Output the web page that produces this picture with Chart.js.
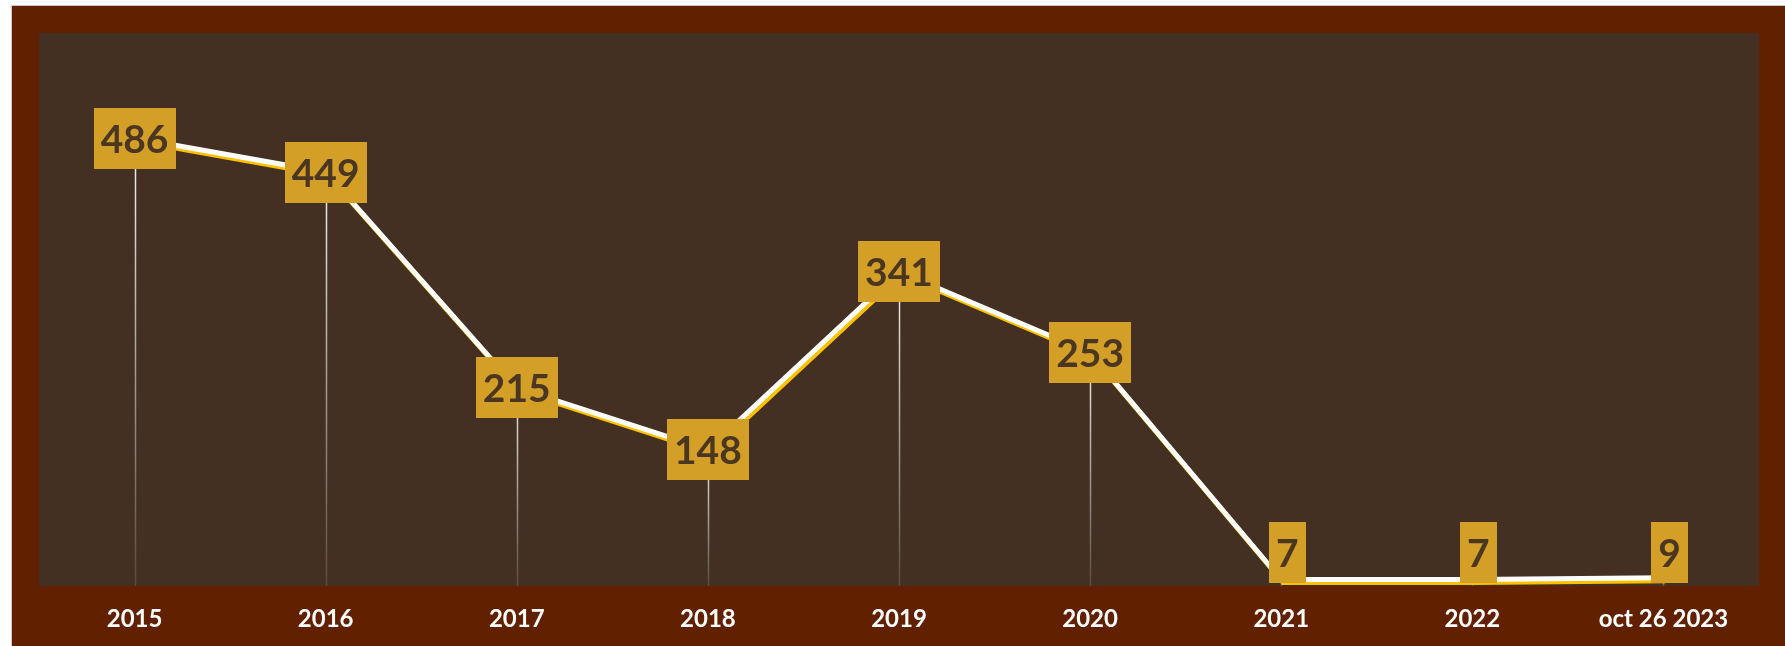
<!DOCTYPE html>
<html><head><meta charset="utf-8">
<script src="https://cdn.jsdelivr.net/npm/chart.js@4.4.1/dist/chart.umd.min.js"></script>
<style>
html,body{margin:0;padding:0;background:#fff;width:1785px;height:646px;overflow:hidden;}
#frame{position:absolute;left:11px;top:5px;width:1773px;height:640px;border-left:1px solid #c9c9c9;border-top:1px solid #c9c9c9;background:#612000;}
canvas{display:block;}
</style></head><body>
<div id="frame"><canvas id="c" width="1773" height="640"></canvas></div>
<script>
const categories = ['2015','2016','2017','2018','2019','2020','2021','2022','oct 26 2023'];
const values = [486,449,215,148,341,253,7,7,9];
const yMin = 0, yMax = 600;

const custom = {
  id: 'custom',
  beforeDraw(chart) {
    const {ctx, chartArea: a} = chart;
    ctx.save();
    ctx.fillStyle = '#433022';
    ctx.fillRect(a.left, a.top, a.right - a.left, a.bottom - a.top);
    ctx.restore();
  },
  beforeDatasetsDraw(chart) {
    const {ctx, chartArea: a} = chart;
    const meta = chart.getDatasetMeta(0);
    ctx.save();
    meta.data.forEach(p => {
      const g = ctx.createLinearGradient(0, p.y, 0, a.bottom);
      g.addColorStop(0, 'rgba(255,255,255,0.95)');
      g.addColorStop(1, 'rgba(255,255,255,0.12)');
      ctx.strokeStyle = g;
      ctx.lineWidth = 1.5;
      ctx.beginPath();
      ctx.moveTo(Math.round(p.x) + 0.5, p.y);
      ctx.lineTo(Math.round(p.x) + 0.5, a.bottom);
      ctx.stroke();
    });
    ctx.restore();
  },
  beforeDatasetDraw(chart) {
    const ctx = chart.ctx;
    ctx.save();
    ctx.shadowColor = '#FFC000';
    ctx.shadowOffsetX = 2;
    ctx.shadowOffsetY = 3;
    ctx.shadowBlur = 0;
  },
  afterDatasetDraw(chart) {
    chart.ctx.restore();
  },
  afterDatasetsDraw(chart) {
    const {ctx, chartArea: a} = chart;
    const meta = chart.getDatasetMeta(0);
    ctx.save();
    ctx.font = 'bold 39px Lato';
    ctx.textAlign = 'center';
    ctx.textBaseline = 'middle';
    meta.data.forEach((p, i) => {
      const txt = String(values[i]);
      const tw = ctx.measureText(txt).width;
      const w = tw + 14, h = 61;
      let cx = p.x, cy = p.y;
      if (cy + h / 2 > a.bottom - 3) { cy = a.bottom - 3 - h / 2; cx += 6; }
      ctx.fillStyle = '#D49F26';
      ctx.fillRect(Math.round(cx - w / 2), Math.round(cy - h / 2), Math.round(w), h);
      ctx.fillStyle = '#4B3621';
      ctx.fillText(txt, cx, cy + 2);
    });
    ctx.restore();
  }
};

new Chart(document.getElementById('c'), {
  type: 'line',
  data: {
    labels: categories,
    datasets: [{
      data: values,
      borderColor: '#FFFFFF',
      borderWidth: 5,
      pointRadius: 0,
      pointHoverRadius: 0,
      tension: 0,
      fill: false
    }]
  },
  options: {
    responsive: false,
    devicePixelRatio: 1,
    animation: false,
    events: [],
    layout: { padding: { left: 27, right: 26, top: 27, bottom: 0 } },
    plugins: { legend: { display: false }, tooltip: { enabled: false } },
    scales: {
      x: {
        offset: true,
        grid: { display: false, drawTicks: false },
        border: { display: false },
        ticks: { color: '#FFFFFF', font: { family: 'Lato', weight: 'bold', size: 24 }, padding: 19, maxRotation: 0, autoSkip: false },
        afterFit(scale) { scale.height = 60; }
      },
      y: { display: false, min: yMin, max: yMax }
    }
  },
  plugins: [custom]
});
</script>
</body></html>
